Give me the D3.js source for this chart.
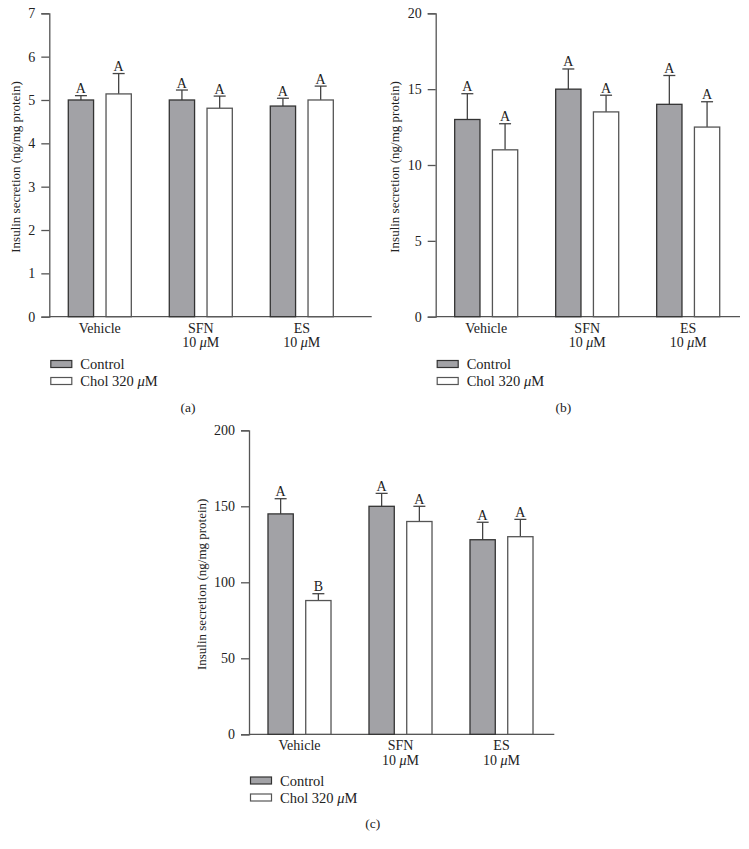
<!DOCTYPE html>
<html><head><meta charset="utf-8">
<script src="https://cdn.jsdelivr.net/npm/d3@7"></script>
<style>body{margin:0;background:#fff}svg{display:block}text{font-family:"Liberation Serif","Times New Roman",serif;fill:#222}</style>
</head><body>
<script>
const groups = ["Vehicle", "SFN", "ES"];
const groupSub = ["", "10 μM", "10 μM"];
const series = ["Control", "Chol 320 μM"];
// Panel (a)
const aControl = [5.0, 5.0, 4.86];
const aControlErr = [5.1, 5.23, 5.04];
const aChol = [5.14, 4.81, 5.0];
const aCholErr = [5.61, 5.09, 5.32];
const aLetters = [["A","A"],["A","A"],["A","A"]];
const aTicks = [0,1,2,3,4,5,6,7];
// Panel (b)
const bControl = [13.0, 15.0, 14.0];
const bControlErr = [14.7, 16.33, 15.9];
const bChol = [11.0, 13.5, 12.5];
const bCholErr = [12.72, 14.6, 14.17];
const bLetters = [["A","A"],["A","A"],["A","A"]];
const bTicks = [0,5,10,15,20];
// Panel (c)
const cControl = [145, 150, 128];
const cControlErr = [155, 158.5, 139.5];
const cChol = [88, 140, 130];
const cCholErr = [92.5, 150, 141.4];
const cLetters = [["A","B"],["A","A"],["A","A"]];
const cTicks = [0,50,100,150,200];

const yTitle = "Insulin secretion (ng/mg protein)";
const colors = {fill:["#a2a2a6","#ffffff"], stroke:["#333333","#555555"]};

const svg = d3.select("body").append("svg").attr("width",749).attr("height",849);

function panel(cfg){
  const g = svg.append("g");
  const y = d3.scaleLinear().domain([0, cfg.ticks[cfg.ticks.length-1]]).range([cfg.y0, cfg.y1]);
  const x = d3.scaleBand().domain(groups).range([cfg.ax, cfg.ax + 303]).paddingInner(0.376).paddingOuter(0.188);
  const xs = d3.scaleBand().domain(series).range([0, x.bandwidth()]).paddingInner(0.33);
  // axes
  const yAxis = d3.axisLeft(y).tickValues(cfg.ticks).tickFormat(d3.format("d")).tickSize(8).tickPadding(6);
  const ya = g.append("g").attr("transform",`translate(${cfg.ax},0)`).call(yAxis);
  ya.select(".domain").attr("stroke","#555").attr("stroke-width",1.3);
  ya.selectAll(".tick line").attr("stroke","#555").attr("stroke-width",1.3);
  ya.selectAll(".tick text").style("font-size","14px").attr("fill","#222").style("font-family","Liberation Serif");
  g.append("line").attr("x1",cfg.ax).attr("x2",cfg.axEnd).attr("y1",y(0)).attr("y2",y(0))
    .attr("stroke","#555").attr("stroke-width",1.3);
  // title
  g.append("text").attr("transform",`translate(${cfg.titleX + 4.5},${(y(0)+y.range()[1])/2 + 2}) rotate(-90)`)
    .attr("text-anchor","middle").style("font-size","13px").text(yTitle);
  const vals = [cfg.control, cfg.chol], errs = [cfg.controlErr, cfg.cholErr];
  groups.forEach((grp, gi) => {
    series.forEach((s, si) => {
      const bx = x(grp) + xs(s), bw = xs.bandwidth(), v = vals[si][gi], e = errs[si][gi];
      const cx = bx + bw/2;
      g.append("line").attr("x1",cx).attr("x2",cx).attr("y1",y(v)).attr("y2",y(e)).attr("stroke","#444").attr("stroke-width",1.3);
      g.append("line").attr("x1",cx-6).attr("x2",cx+6).attr("y1",y(e)).attr("y2",y(e)).attr("stroke","#444").attr("stroke-width",1.3);
      g.append("rect").attr("x",bx).attr("y",y(v)).attr("width",bw).attr("height",y(0)-y(v))
        .attr("fill",colors.fill[si]).attr("stroke",colors.stroke[si]).attr("stroke-width",1.3);
      g.append("text").attr("x",cx).attr("y",y(e)-2.5).attr("text-anchor","middle").style("font-size","14px").text(cfg.letters[gi][si]);
    });
    const lx = x(grp) + x.bandwidth()/2;
    g.append("text").attr("x",lx).attr("y",y(0)+16).attr("text-anchor","middle").style("font-size","14px").text(grp);
    if (groupSub[gi]) {
      const t = g.append("text").attr("x",lx).attr("y",y(0)+30.5).attr("text-anchor","middle").style("font-size","14px");
      t.append("tspan").text("10 ");
      t.append("tspan").style("font-style","italic").text("μ");
      t.append("tspan").text("M");
    }
  });
  // legend
  series.forEach((s, si) => {
    const ly = cfg.legY + si*17;
    g.append("rect").attr("x",cfg.ax+1.5).attr("y",ly-3.5).attr("width",21).attr("height",7)
      .attr("fill",colors.fill[si]).attr("stroke",colors.stroke[si]).attr("stroke-width",1.2);
    const t = g.append("text").attr("x",cfg.ax+31).attr("y",ly+5).style("font-size","14.5px");
    if (si === 0) t.text(s);
    else { t.append("tspan").text("Chol 320 "); t.append("tspan").style("font-style","italic").text("μ"); t.append("tspan").text("M"); }
  });
  g.append("text").attr("x",cfg.labX).attr("y",cfg.labY+4.5).attr("text-anchor","middle").style("font-size","13.5px").text(cfg.label);
}

panel({ax:49.3, axEnd:371.7, titleX:15, y0:316.7, y1:13.3, ticks:aTicks, control:aControl, controlErr:aControlErr, chol:aChol, cholErr:aCholErr, letters:aLetters, legY:364, labX:188, labY:407, label:"(a)"});
panel({ax:435.7, axEnd:740, titleX:394.3, y0:316.7, y1:13.3, ticks:bTicks, control:bControl, controlErr:bControlErr, chol:bChol, cholErr:bCholErr, letters:bLetters, legY:364, labX:563.3, labY:407, label:"(b)"});
panel({ax:249, axEnd:554.3, titleX:201.7, y0:734.3, y1:430.3, ticks:cTicks, control:cControl, controlErr:cControlErr, chol:cChol, cholErr:cCholErr, letters:cLetters, legY:780.5, labX:372.7, labY:823.3, label:"(c)"});
</script>
</body></html>
